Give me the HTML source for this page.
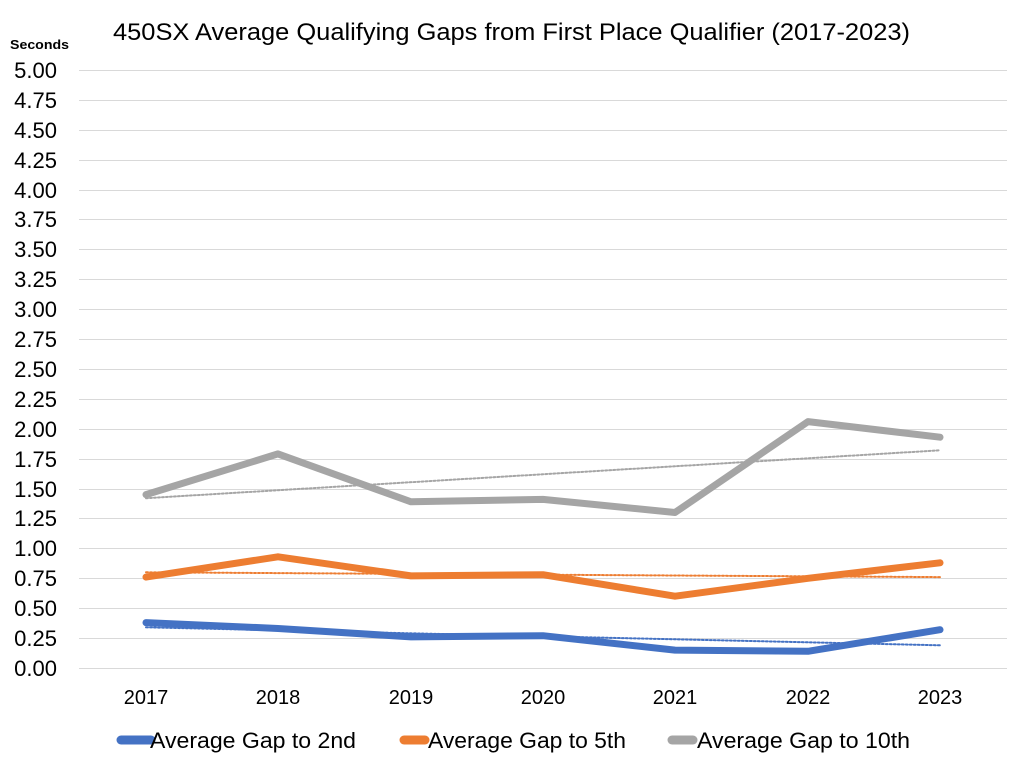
<!DOCTYPE html>
<html><head><meta charset="utf-8"><style>body{margin:0;background:#fff}svg{display:block}</style></head><body>
<svg width="1024" height="768" xmlns="http://www.w3.org/2000/svg" font-family="Liberation Sans, sans-serif">
<rect width="1024" height="768" fill="#fff"/>
<text x="113" y="40" font-size="24" textLength="797" lengthAdjust="spacingAndGlyphs" fill="#000">450SX Average Qualifying Gaps from First Place Qualifier (2017-2023)</text>
<text x="10" y="49" font-size="13" font-weight="bold" textLength="59" lengthAdjust="spacingAndGlyphs">Seconds</text>
<g stroke="#d9d9d9" stroke-width="1">
<line x1="79" x2="1007" y1="70.5" y2="70.5"/><line x1="79" x2="1007" y1="100.5" y2="100.5"/><line x1="79" x2="1007" y1="130.5" y2="130.5"/><line x1="79" x2="1007" y1="160.5" y2="160.5"/><line x1="79" x2="1007" y1="190.5" y2="190.5"/><line x1="79" x2="1007" y1="219.5" y2="219.5"/><line x1="79" x2="1007" y1="249.5" y2="249.5"/><line x1="79" x2="1007" y1="279.5" y2="279.5"/><line x1="79" x2="1007" y1="309.5" y2="309.5"/><line x1="79" x2="1007" y1="339.5" y2="339.5"/><line x1="79" x2="1007" y1="369.5" y2="369.5"/><line x1="79" x2="1007" y1="399.5" y2="399.5"/><line x1="79" x2="1007" y1="429.5" y2="429.5"/><line x1="79" x2="1007" y1="459.5" y2="459.5"/><line x1="79" x2="1007" y1="489.5" y2="489.5"/><line x1="79" x2="1007" y1="518.5" y2="518.5"/><line x1="79" x2="1007" y1="548.5" y2="548.5"/><line x1="79" x2="1007" y1="578.5" y2="578.5"/><line x1="79" x2="1007" y1="608.5" y2="608.5"/><line x1="79" x2="1007" y1="638.5" y2="638.5"/><line x1="79" x2="1007" y1="668.5" y2="668.5"/>
</g>
<g font-size="22" text-anchor="end" fill="#000">
<text x="57" y="78">5.00</text><text x="57" y="108">4.75</text><text x="57" y="138">4.50</text><text x="57" y="168">4.25</text><text x="57" y="198">4.00</text><text x="57" y="227">3.75</text><text x="57" y="257">3.50</text><text x="57" y="287">3.25</text><text x="57" y="317">3.00</text><text x="57" y="347">2.75</text><text x="57" y="377">2.50</text><text x="57" y="407">2.25</text><text x="57" y="437">2.00</text><text x="57" y="467">1.75</text><text x="57" y="497">1.50</text><text x="57" y="526">1.25</text><text x="57" y="556">1.00</text><text x="57" y="586">0.75</text><text x="57" y="616">0.50</text><text x="57" y="646">0.25</text><text x="57" y="676">0.00</text>
</g>
<g font-size="20" text-anchor="middle">
<text x="146" y="704">2017</text><text x="278" y="704">2018</text><text x="411" y="704">2019</text><text x="543" y="704">2020</text><text x="675" y="704">2021</text><text x="808" y="704">2022</text><text x="940" y="704">2023</text>
</g>
<g fill="none" stroke-linecap="round" stroke-linejoin="round">
<polyline stroke="#a5a5a5" stroke-width="7" points="146,494.6 278,453.9 411,501.8 543,499.4 675,512.5 808,421.6 940,437.2"/>
<polyline stroke="#ed7d31" stroke-width="7" points="146,577.1 278,556.8 411,575.9 543,574.7 675,596.2 808,578.3 940,562.8"/>
<polyline stroke="#4472c4" stroke-width="7" points="146,622.6 278,628.5 411,636.9 543,635.7 675,650.1 808,651.3 940,629.7"/>
<line stroke="#a5a5a5" stroke-width="2" stroke-dasharray="2,2" x1="146" y1="498.2" x2="940" y2="450.3"/>
<line stroke="#ed7d31" stroke-width="2" stroke-dasharray="2,2" x1="146" y1="572.3" x2="940" y2="577.1"/>
<line stroke="#4472c4" stroke-width="2" stroke-dasharray="2,2" x1="146" y1="627.3" x2="940" y2="645.3"/>
</g>
<g stroke-width="9" stroke-linecap="round">
<line x1="121" x2="151" y1="740" y2="740" stroke="#4472c4"/>
<line x1="404" x2="425" y1="740" y2="740" stroke="#ed7d31"/>
<line x1="672" x2="693" y1="740" y2="740" stroke="#a5a5a5"/>
</g>
<g font-size="22">
<text x="150" y="748" textLength="206" lengthAdjust="spacingAndGlyphs">Average Gap to 2nd</text>
<text x="428" y="748" textLength="198" lengthAdjust="spacingAndGlyphs">Average Gap to 5th</text>
<text x="697" y="748" textLength="213" lengthAdjust="spacingAndGlyphs">Average Gap to 10th</text>
</g>
</svg>
</body></html>
